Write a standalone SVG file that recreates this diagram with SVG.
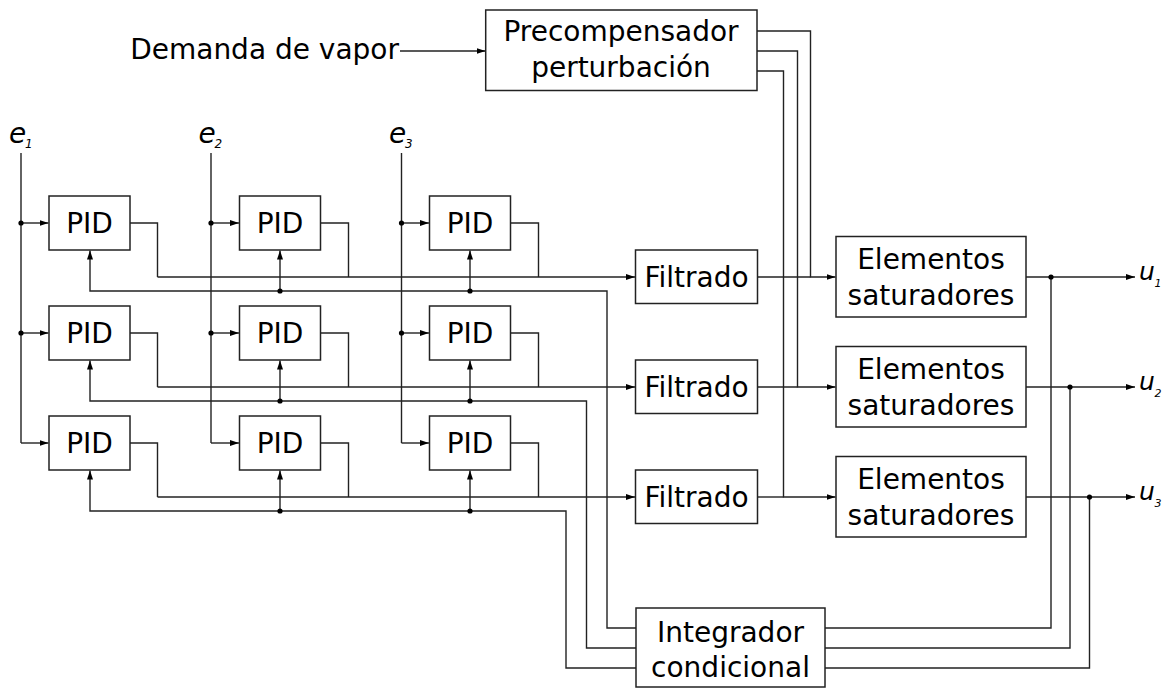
<svg xmlns="http://www.w3.org/2000/svg" width="1169" height="688" viewBox="0 0 1169 688">
<defs>
<style>
.box{fill:#fff;stroke:#222;stroke-width:1.5}
.ln{fill:none;stroke:#222;stroke-width:1.4}
.arr{marker-end:url(#ah)}
.t{font-family:"DejaVu Sans","Verdana",sans-serif;font-size:28px;fill:#000}
.c{text-anchor:middle}
.lab{font-family:"DejaVu Sans","Verdana",sans-serif;font-style:italic;fill:#000}
.dot{fill:#000}
</style>
<marker id="ah" markerUnits="userSpaceOnUse" markerWidth="10" markerHeight="7" refX="9" refY="3" orient="auto">
<path d="M0,0 L9,3 L0,6 Z" fill="#000"/>
</marker>
</defs>
<rect width="1169" height="688" fill="#fff"/>

<g id="connectors">
<!-- disturbance input -->
<path class="ln arr" d="M400,51 H485.5"/>
<!-- precompensator outputs -->
<path class="ln arr" d="M757,31 H810.5 V277 H835.5"/>
<path class="ln arr" d="M757,51 H797.5 V387 H835.5"/>
<path class="ln arr" d="M757,71 H783.5 V497 H835.5"/>
<!-- error inputs -->
<path class="ln" d="M21,153 V443"/>
<path class="ln" d="M211,153 V443"/>
<path class="ln" d="M401.5,153 V443"/>
<path class="ln arr" d="M21,223 H48.5"/><path class="ln arr" d="M21,333 H48.5"/><path class="ln arr" d="M21,443 H48.5"/>
<path class="ln arr" d="M211,223 H239"/><path class="ln arr" d="M211,333 H239"/><path class="ln arr" d="M211,443 H239"/>
<path class="ln arr" d="M401.5,223 H429"/><path class="ln arr" d="M401.5,333 H429"/><path class="ln arr" d="M401.5,443 H429"/>
<!-- PID outputs to sum lines -->
<path class="ln" d="M130,223 H157.5 V277"/><path class="ln" d="M320.5,223 H348.5 V277"/><path class="ln" d="M510.5,223 H538.5 V277"/>
<path class="ln" d="M130,333 H157.5 V387"/><path class="ln" d="M320.5,333 H348.5 V387"/><path class="ln" d="M510.5,333 H538.5 V387"/>
<path class="ln" d="M130,443 H157.5 V497"/><path class="ln" d="M320.5,443 H348.5 V497"/><path class="ln" d="M510.5,443 H538.5 V497"/>
<path class="ln arr" d="M157.5,277 H635"/>
<path class="ln arr" d="M157.5,387 H635"/>
<path class="ln arr" d="M157.5,497 H635"/>
<!-- Filtrado to Elementos -->
<path class="ln" d="M757.5,277 H810.5"/>
<path class="ln" d="M757.5,387 H797.5"/>
<path class="ln" d="M757.5,497 H783.5"/>
<!-- outputs -->
<path class="ln arr" d="M1026,277 H1135"/>
<path class="ln arr" d="M1026,387 H1135"/>
<path class="ln arr" d="M1026,497 H1135"/>
<!-- outputs to integrator -->
<path class="ln" d="M1051,277 V628 H825"/>
<path class="ln" d="M1070,387 V648 H825"/>
<path class="ln" d="M1089.5,497 V668 H825"/>
<!-- integrator feedback to PIDs -->
<path class="ln arr" d="M636,628 H607 V291 H90 V250.5"/>
<path class="ln arr" d="M280,291 V250.5"/><path class="ln arr" d="M470,291 V250.5"/>
<path class="ln arr" d="M636,648 H586.5 V401 H90 V360.5"/>
<path class="ln arr" d="M280,401 V360.5"/><path class="ln arr" d="M470,401 V360.5"/>
<path class="ln arr" d="M636,668 H566 V511 H90 V470.5"/>
<path class="ln arr" d="M280,511 V470.5"/><path class="ln arr" d="M470,511 V470.5"/>
<!-- junction dots -->
<circle class="dot" cx="21" cy="223" r="2.6"/><circle class="dot" cx="21" cy="333" r="2.6"/>
<circle class="dot" cx="211" cy="223" r="2.6"/><circle class="dot" cx="211" cy="333" r="2.6"/>
<circle class="dot" cx="401.5" cy="223" r="2.6"/><circle class="dot" cx="401.5" cy="333" r="2.6"/>
<circle class="dot" cx="280" cy="291" r="2.6"/><circle class="dot" cx="470" cy="291" r="2.6"/>
<circle class="dot" cx="280" cy="401" r="2.6"/><circle class="dot" cx="470" cy="401" r="2.6"/>
<circle class="dot" cx="280" cy="511" r="2.6"/><circle class="dot" cx="470" cy="511" r="2.6"/>
<circle class="dot" cx="1051" cy="277" r="2.6"/><circle class="dot" cx="1070" cy="387" r="2.6"/><circle class="dot" cx="1089.5" cy="497" r="2.6"/>
</g>

<g id="label-demanda"><text class="t" x="399" y="59" text-anchor="end">Demanda de vapor</text></g>
<g id="precompensador">
<rect class="box" x="485.7" y="10" width="271.3" height="80.5"/>
<text class="t c" x="621" y="41">Precompensador</text>
<text class="t c" x="621" y="77">perturbación</text>
</g>

<g id="label-e1"><text class="lab" x="9" y="143" font-size="28">e</text><text class="lab" x="25" y="147.5" font-size="12">1</text></g>
<g id="label-e2"><text class="lab" x="198.5" y="143" font-size="28">e</text><text class="lab" x="214.5" y="147.5" font-size="12">2</text></g>
<g id="label-e3"><text class="lab" x="389" y="143" font-size="28">e</text><text class="lab" x="405" y="147.5" font-size="12">3</text></g>

<g id="pid11"><rect class="box" x="49" y="196" width="81" height="54"/><text class="t c" x="89.5" y="233">PID</text></g>
<g id="pid12"><rect class="box" x="239.5" y="196" width="81" height="54"/><text class="t c" x="280" y="233">PID</text></g>
<g id="pid13"><rect class="box" x="429.5" y="196" width="81" height="54"/><text class="t c" x="470" y="233">PID</text></g>
<g id="pid21"><rect class="box" x="49" y="306" width="81" height="54"/><text class="t c" x="89.5" y="343">PID</text></g>
<g id="pid22"><rect class="box" x="239.5" y="306" width="81" height="54"/><text class="t c" x="280" y="343">PID</text></g>
<g id="pid23"><rect class="box" x="429.5" y="306" width="81" height="54"/><text class="t c" x="470" y="343">PID</text></g>
<g id="pid31"><rect class="box" x="49" y="416" width="81" height="54"/><text class="t c" x="89.5" y="453">PID</text></g>
<g id="pid32"><rect class="box" x="239.5" y="416" width="81" height="54"/><text class="t c" x="280" y="453">PID</text></g>
<g id="pid33"><rect class="box" x="429.5" y="416" width="81" height="54"/><text class="t c" x="470" y="453">PID</text></g>

<g id="filtrado1"><rect class="box" x="635.5" y="250" width="122" height="53.5"/><text class="t c" x="696.5" y="287">Filtrado</text></g>
<g id="filtrado2"><rect class="box" x="635.5" y="360" width="122" height="53.5"/><text class="t c" x="696.5" y="397">Filtrado</text></g>
<g id="filtrado3"><rect class="box" x="635.5" y="470" width="122" height="53.5"/><text class="t c" x="696.5" y="507">Filtrado</text></g>

<g id="elementos1"><rect class="box" x="836" y="236.5" width="190" height="80.5"/><text class="t c" x="931" y="269">Elementos</text><text class="t c" x="931" y="305">saturadores</text></g>
<g id="elementos2"><rect class="box" x="836" y="346.5" width="190" height="80.5"/><text class="t c" x="931" y="379">Elementos</text><text class="t c" x="931" y="415">saturadores</text></g>
<g id="elementos3"><rect class="box" x="836" y="456.5" width="190" height="80.5"/><text class="t c" x="931" y="489">Elementos</text><text class="t c" x="931" y="525">saturadores</text></g>

<g id="label-u1"><text class="lab" x="1139" y="279.5" font-size="25">u</text><text class="lab" x="1154.5" y="286.5" font-size="11">1</text></g>
<g id="label-u2"><text class="lab" x="1139" y="389.5" font-size="25">u</text><text class="lab" x="1154.5" y="396.5" font-size="11">2</text></g>
<g id="label-u3"><text class="lab" x="1139" y="499.5" font-size="25">u</text><text class="lab" x="1154.5" y="506.5" font-size="11">3</text></g>

<g id="integrador"><rect class="box" x="636" y="608" width="189" height="79"/><text class="t c" x="730.5" y="641.5">Integrador</text><text class="t c" x="730.5" y="676.5">condicional</text></g>
</svg>
